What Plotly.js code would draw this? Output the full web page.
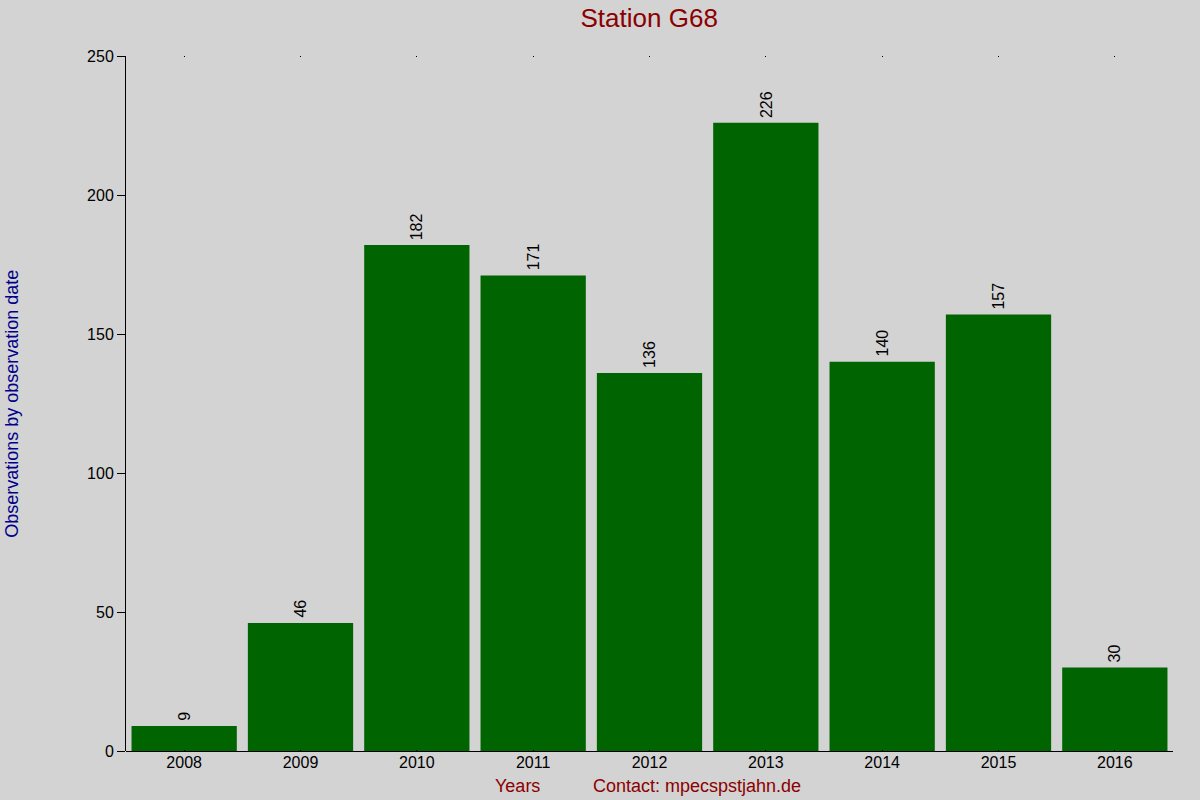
<!DOCTYPE html>
<html>
<head>
<meta charset="utf-8">
<script src="https://cdn.plot.ly/plotly-3.0.1.min.js"></script>
<style>html,body{margin:0;padding:0;background:#d3d3d3;}#chart{width:1200px;height:800px;}</style>
</head>
<body>
<div id="chart"></div>
<script>
const years = ['2008','2009','2010','2011','2012','2013','2014','2015','2016'];
const observations = [9, 46, 182, 171, 136, 226, 140, 157, 30];
const yTicks = [0, 50, 100, 150, 200, 250];

const FONT = 'Liberation Sans, Arial, sans-serif';

const trace = {
  type: 'bar',
  x: years,
  y: observations,
  marker: {color: '#006400', line: {width: 0}},
  hoverinfo: 'x+y'
};

// category axis: annotations positioned by category index
const barLabels = years.map((yr, i) => ({
  x: i, y: observations[i], xref: 'x', yref: 'y',
  text: String(observations[i]), textangle: -90,
  xanchor: 'center', yanchor: 'bottom', yshift: 3,
  showarrow: false,
  font: {family: FONT, size: 16, color: '#000000'}
}));

const layout = {
  width: 1200, height: 800,
  paper_bgcolor: '#d3d3d3',
  plot_bgcolor: '#d3d3d3',
  margin: {l: 126, r: 27, t: 56, b: 49},
  bargap: 0.095,
  showlegend: false,
  font: {family: FONT, color: '#000000'},
  title: {text: 'Station G68', font: {family: FONT, size: 26, color: '#8b0000'},
          x: 0.5410, xanchor: 'center', y: 0.978, yanchor: 'middle'},
  xaxis: {
    type: 'category',
    range: [-0.5, years.length - 0.5],
    showline: false,
    showgrid: false,
    zeroline: false,
    ticks: 'inside', ticklen: 1, tickwidth: 1, tickcolor: '#000000',
    mirror: 'ticks',
    tickfont: {family: FONT, size: 16, color: '#000000'}
  },
  yaxis: {
    range: [0, 250],
    tickvals: yTicks,
    showgrid: false,
    showline: true, linecolor: '#000000', linewidth: 1,
    zeroline: true, zerolinecolor: '#000000', zerolinewidth: 1,
    ticks: 'outside', ticklen: 8, tickwidth: 1, tickcolor: '#000000',
    tickfont: {family: FONT, size: 16, color: '#000000'}
  },
  annotations: barLabels.concat([
    {text: 'Observations by observation date', xref: 'paper', yref: 'paper',
     x: -0.1095, y: 0.5, xanchor: 'center', yanchor: 'middle', textangle: -90,
     showarrow: false, font: {family: FONT, size: 18, color: '#00008b'}},
    {text: 'Years', xref: 'paper', yref: 'paper', x: (517-126)/1047, y: -35/695,
     xanchor: 'center', yanchor: 'middle', showarrow: false,
     font: {family: FONT, size: 18, color: '#8b0000'}},
    {text: 'Contact: mpecspstjahn.de', xref: 'paper', yref: 'paper', x: (697-126)/1047, y: -35/695,
     xanchor: 'center', yanchor: 'middle', showarrow: false,
     font: {family: FONT, size: 18, color: '#8b0000'}}
  ])
};

Plotly.newPlot('chart', [trace], layout, {displayModeBar: false, staticPlot: true});
</script>
</body>
</html>
